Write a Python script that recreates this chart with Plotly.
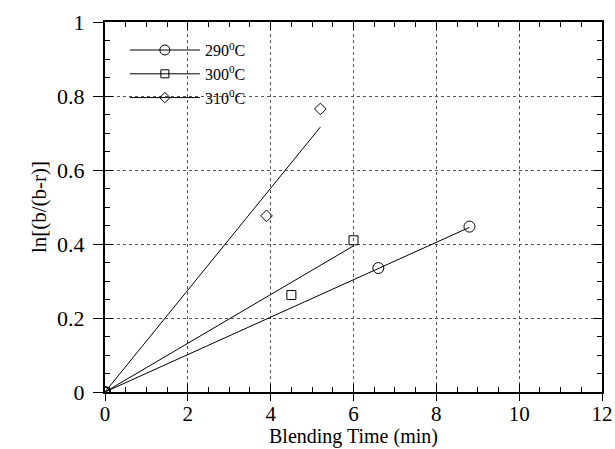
import plotly.graph_objects as go

# Data
names = ["290<sup>0</sup>C", "300<sup>0</sup>C", "310<sup>0</sup>C"]
symbols = ["circle-open", "square-open", "diamond-open"]
sizes = [11, 9, 9]

x_290 = [0, 6.6, 8.8]
y_290 = [0, 0.335, 0.447]
x_300 = [0, 4.5, 6.0]
y_300 = [0, 0.262, 0.41]
x_310 = [0, 3.9, 5.2]
y_310 = [0, 0.476, 0.765]

# fitted lines (through origin), endpoints
fit_x_290 = [0, 8.8]
fit_y_290 = [0, 0.445]
fit_x_300 = [0, 6.0]
fit_y_300 = [0, 0.395]
fit_x_310 = [0, 5.2]
fit_y_310 = [0, 0.716]

xs = [x_290, x_300, x_310]
ys = [y_290, y_300, y_310]
fxs = [fit_x_290, fit_x_300, fit_x_310]
fys = [fit_y_290, fit_y_300, fit_y_310]

x_ticks = [0, 2, 4, 6, 8, 10, 12]
y_ticks = [0, 0.2, 0.4, 0.6, 0.8, 1]
y_tick_labels = ["0", "0.2", "0.4", "0.6", "0.8", "1"]
x_title = "Blending Time (min)"
y_title = "ln[(b/(b-r)]"

fig = go.Figure()
for i in range(3):
    fig.add_trace(go.Scatter(x=fxs[i], y=fys[i], mode="lines",
                             line=dict(color="black", width=1),
                             showlegend=False, hoverinfo="skip"))
    fig.add_trace(go.Scatter(x=xs[i], y=ys[i], mode="markers",
                             marker=dict(symbol=symbols[i], size=sizes[i],
                                         color="black", line=dict(width=1, color="black")),
                             showlegend=False))
    # legend-only entry (line + marker sample)
    fig.add_trace(go.Scatter(x=[None], y=[None], mode="lines+markers", name=names[i],
                             line=dict(color="black", width=1),
                             marker=dict(symbol=symbols[i], size=sizes[i] - 1,
                                         color="black", line=dict(width=1, color="black"))))

font_family = "Liberation Serif, Times New Roman, serif"
fig.update_layout(
    width=615, height=449,
    margin=dict(l=105, r=13, t=22, b=57),
    paper_bgcolor="white", plot_bgcolor="white",
    font=dict(family=font_family, color="black", size=21),
    showlegend=True,
    legend=dict(x=0.04, y=0.97, xanchor="left", yanchor="top",
                bgcolor="rgba(0,0,0,0)", font=dict(family=font_family, size=16),
                itemwidth=70, tracegroupgap=0),
    xaxis=dict(range=[0, 12], tickvals=x_ticks, ticks="inside", ticklen=8,
               tickcolor="black", showline=True, linecolor="black", linewidth=2,
               mirror="allticks", showgrid=True, gridcolor="#555", griddash="dot",
               gridwidth=1, zeroline=False, automargin=False,
               tickfont=dict(family=font_family, size=21, color="black"),
               ticklabelstandoff=2,
               minor=dict(dtick=0.5, ticks="inside", ticklen=5, tickcolor="black", showgrid=False)),
    yaxis=dict(range=[0, 1], tickvals=y_ticks, ticktext=y_tick_labels, ticks="inside", ticklen=8,
               tickcolor="black", showline=True, linecolor="black", linewidth=2,
               mirror="allticks", showgrid=True, gridcolor="#555", griddash="dot",
               gridwidth=1, zeroline=False, automargin=False,
               tickfont=dict(family=font_family, size=22, color="black"),
               ticklabelstandoff=14,
               minor=dict(dtick=0.05, ticks="inside", ticklen=5, tickcolor="black", showgrid=False),
               title=dict(text=y_title, standoff=5,
                          font=dict(family=font_family, size=21))),
    xaxis2=dict(overlaying="x", anchor="y", side="bottom", range=[0, 12], tickvals=x_ticks,
                ticks="outside", ticklen=8, tickcolor="black", showticklabels=False,
                showgrid=False, showline=False, zeroline=False, automargin=False),
    yaxis2=dict(overlaying="y", anchor="x", side="left", range=[0, 1], tickvals=y_ticks,
                ticks="outside", ticklen=11, tickcolor="black", showticklabels=False,
                showgrid=False, showline=False, zeroline=False, automargin=False),
    annotations=[dict(text=x_title, xref="paper", yref="paper", x=0.5, y=-0.119,
                      xanchor="center", yanchor="middle", showarrow=False,
                      borderpad=0, font=dict(family=font_family, size=20, color="black"))],
)
# dummy trace to activate overlay axes
fig.add_trace(go.Scatter(x=[None], y=[None], xaxis="x2", yaxis="y2", showlegend=False))

fig.write_html("out.html", config={"displayModeBar": False},
               post_script="document.body.style.margin='0';document.body.style.overflow='hidden';")
